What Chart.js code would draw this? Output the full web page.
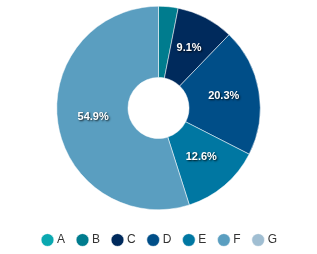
<!DOCTYPE html>
<html><head><meta charset="utf-8">
<script src="https://cdn.jsdelivr.net/npm/chart.js@4/dist/chart.umd.min.js"></script>
<style>html,body{margin:0;padding:0;background:#fff}#w{width:317px;height:254px}</style>
</head><body><div id="w"><canvas id="c"></canvas></div>
<script>
const categories = ['A','B','C','D','E','F','G'];
const values = [0, 3.1, 9.1, 20.3, 12.6, 54.9, 0];
const colors = ['#0aa8b0','#007c8e','#002a5c','#004e88','#0077a2','#5a9ec0','#a0bed2'];

const labelPlugin = {
  id: 'sliceLabels',
  afterLayout(chart) {
    const lg = chart.legend;
    if (lg) { lg.top += 10; lg.bottom += 10; lg.left += 2; lg.right += 2; }
  },
  afterDatasetsDraw(chart) {
    const ctx = chart.ctx;
    const meta = chart.getDatasetMeta(0);
    const ds = chart.data.datasets[0];
    const total = ds.data.reduce((a,b)=>a+b,0);
    ctx.save();
    ctx.font = 'bold 11px "Liberation Sans", Arial, sans-serif';
    ctx.textAlign = 'center';
    ctx.textBaseline = 'middle';
    meta.data.forEach((arc, i) => {
      const v = ds.data[i];
      const pct = v / total * 100;
      if (pct < 5) return;
      const p = arc.tooltipPosition();
      ctx.shadowColor = 'rgba(0,0,0,0.85)';
      ctx.shadowBlur = 2;
      ctx.shadowOffsetX = 1;
      ctx.shadowOffsetY = 1;
      ctx.fillStyle = '#ffffff';
      ctx.fillText(pct.toFixed(1) + '%', p.x, p.y - 1);
    });
    ctx.restore();
  }
};

new Chart(document.getElementById('c'), {
  type: 'doughnut',
  data: {
    labels: categories,
    datasets: [{
      data: values,
      backgroundColor: colors,
      borderColor: '#ffffff',
      borderWidth: 0.5
    }]
  },
  options: {
    responsive: true,
    maintainAspectRatio: false,
    animation: false,
    cutout: '30%',
    layout: { padding: { top: 6, bottom: 8 } },
    plugins: {
      tooltip: { enabled: false },
      legend: {
        position: 'bottom',
        labels: {
          usePointStyle: true,
          pointStyle: 'circle',
          boxWidth: 7,
          boxHeight: 9,
          padding: 14,
          color: '#333',
          font: { size: 12, family: '"Liberation Sans", Arial, sans-serif' }
        }
      }
    }
  },
  plugins: [labelPlugin]
});
</script>
</body></html>
